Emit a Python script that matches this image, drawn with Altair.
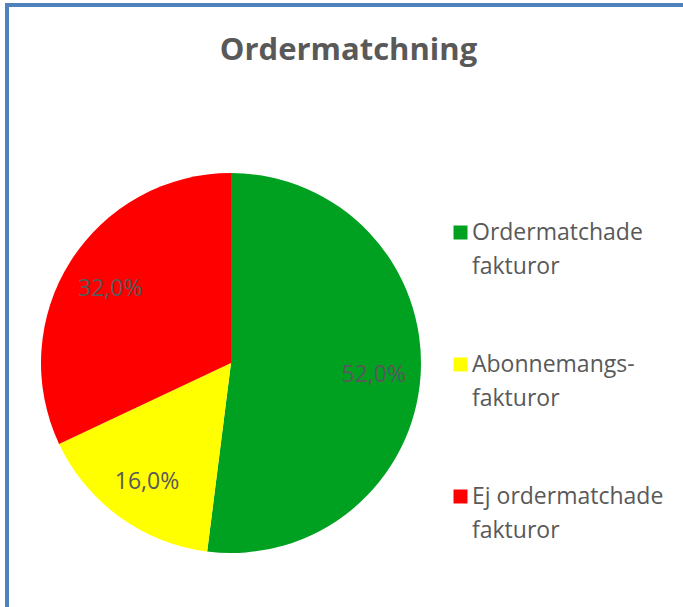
import altair as alt
import pandas as pd

categories = ["Ordermatchade\nfakturor", "Abonnemangs-\nfakturor", "Ej ordermatchade\nfakturor"]
values = [52.0, 16.0, 32.0]
labels = ["52,0%", "16,0%", "32,0%"]
colors = ["#00a021", "#ffff00", "#ff0000"]

df = pd.DataFrame({"kategori": categories, "andel": values, "etikett": labels, "ordning": [0, 1, 2]})

FONT = "Open Sans"
GRAY = "#595959"
FRAME = "#4f81bd"

base = alt.Chart(df).encode(
    theta=alt.Theta("andel:Q", stack=True),
    order=alt.Order("ordning:Q"),
)

pie = base.mark_arc(x=231, y=363, outerRadius=190, stroke=None).encode(
    color=alt.Color(
        "kategori:N",
        sort=categories,
        scale=alt.Scale(domain=categories, range=colors),
        legend=alt.Legend(
            title=None,
            orient="none",
            legendX=449,
            legendY=221,
            symbolType="square",
            symbolSize=196,
            symbolStrokeWidth=0,
            labelFont=FONT,
            labelFontSize=23,
            labelColor=GRAY,
            labelExpr="split(datum.label, '\\n')",
            labelBaseline="middle",
            labelOffset=0,
            labelLimit=300,
            rowPadding=74,
        ),
    )
)

text = base.mark_text(x=231, y=363, radius=143, dy=3, font=FONT, fontSize=23, color=GRAY).encode(
    text="etikett:N"
)

frame_left = alt.Chart(df).mark_rule(color=FRAME, strokeWidth=4).encode(
    x=alt.value(7), y=alt.value(3), y2=alt.value(607)
)
frame_top = alt.Chart(df).mark_rule(color=FRAME, strokeWidth=4).encode(
    x=alt.value(5), x2=alt.value(683), y=alt.value(5)
)

chart = alt.layer(pie, text, frame_left, frame_top).properties(
    width=683,
    height=607,
    padding={"left": 0, "top": 0, "right": 0, "bottom": 0},
    autosize=alt.AutoSizeParams(type="none"),
    title=alt.TitleParams(
        "Ordermatchning",
        font=FONT,
        fontSize=31,
        fontWeight="bold",
        color=GRAY,
        anchor="middle",
        frame="group",
        baseline="alphabetic",
        offset=0,
        dx=7,
        dy=91,
    ),
).configure(
    view=alt.ViewConfig(stroke=None),
    style={"guide-label": {"lineHeight": 34}},
)

chart.save("out.html", embed_options={"renderer": "svg", "actions": False})
